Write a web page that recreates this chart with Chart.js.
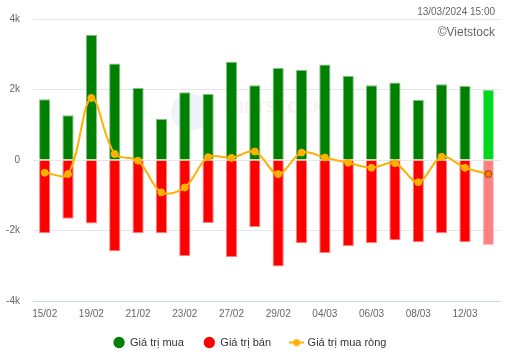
<!DOCTYPE html>
<html>
<head>
<meta charset="utf-8">
<script src="https://cdn.jsdelivr.net/npm/chart.js@4"></script>
<style>
  body { margin: 0; background: #fff; }
</style>
</head>
<body>
<canvas id="grafico" width="511" height="360"></canvas>
<script>
// Dữ liệu (đơn vị: tỷ đồng)
const ngay = ['15/02', '16/02', '19/02', '20/02', '21/02', '22/02', '23/02', '26/02', '27/02', '28/02',
              '29/02', '01/03', '04/03', '05/03', '06/03', '07/03', '08/03', '11/03', '12/03', '13/03'];
const giaTriMua = [1720, 1270, 3550, 2740, 2040, 1160, 1920, 1870, 2790, 2120,
                   2610, 2550, 2710, 2380, 2120, 2200, 1700, 2150, 2100, 1990];
const giaTriBan = [-2080, -1670, -1800, -2590, -2080, -2080, -2720, -1790, -2750, -1900,
                   -3020, -2360, -2640, -2450, -2360, -2280, -2330, -2080, -2330, -2410];
const giaTriMuaRong = [-360, -400, 1760, 170, -20, -920, -780, 80, 60, 240,
                       -400, 210, 70, -80, -220, -90, -630, 90, -220, -400];
const mocTrucY = [-4000, -2000, 0, 2000, 4000];
const thoiGian = '13/03/2024 15:00';

const FONT = 'Liberation Sans, Arial, sans-serif';
const cuoi = ngay.length - 1;

// Biểu tượng chú thích cho đường (vạch + chấm)
const iconDuong = document.createElement('canvas');
iconDuong.width = 15; iconDuong.height = 8;
(function () {
    const c = iconDuong.getContext('2d');
    c.strokeStyle = '#ffb000'; c.lineWidth = 2;
    c.beginPath(); c.moveTo(0, 4); c.lineTo(15, 4); c.stroke();
    c.fillStyle = '#ffb000';
    c.beginPath(); c.arc(7.5, 4, 3.5, 0, Math.PI * 2); c.fill();
})();

// Logo mờ ở giữa và chữ ở góc trên
const plNen = {
    id: 'nen',
    beforeDatasetsDraw(chart) {
        const ctx = chart.ctx;
        ctx.save();
        ctx.fillStyle = 'rgba(40, 90, 160, 0.07)';
        ctx.beginPath(); ctx.arc(190, 112, 19, 0, Math.PI * 2); ctx.fill();
        ctx.font = 'bold 17px ' + FONT;
        ctx.fillStyle = 'rgba(220, 60, 60, 0.08)';
        ctx.textBaseline = 'middle';
        ctx.fillText('VIETSTOCK', 228, 108);
        ctx.restore();
    },
    afterDraw(chart) {
        const ctx = chart.ctx;
        ctx.save();
        ctx.textAlign = 'right';
        ctx.textBaseline = 'middle';
        ctx.fillStyle = '#666';
        ctx.font = '10px ' + FONT;
        ctx.fillText(thoiGian, 495, 12);
        ctx.font = '12px ' + FONT;
        ctx.fillText('\u00A9Vietstock', 495, 33);
        ctx.restore();
    }
};

new Chart(document.getElementById('grafico'), {
    data: {
        labels: ngay,
        datasets: [
            {
                type: 'line',
                label: 'Giá trị mua ròng',
                data: giaTriMuaRong,
                borderColor: '#ffb000',
                borderWidth: 2,
                tension: 0.35,
                pointRadius: 3.5,
                pointBorderWidth: 1,
                pointBackgroundColor: ngay.map((_, i) => i === cuoi ? '#ff7a00' : '#ffb000'),
                pointBorderColor: ngay.map((_, i) => i === cuoi ? '#8b4a1a' : '#ffb000'),
                order: 0
            },
            {
                type: 'bar',
                label: 'Giá trị mua',
                data: giaTriMua,
                backgroundColor: ngay.map((_, i) => i === cuoi ? '#00d81e' : '#008000'),
                borderColor: ngay.map((_, i) => i === cuoi ? '#80ec8f' : '#80c080'),
                borderWidth: 1,
                barPercentage: 0.48,
                categoryPercentage: 1,
                order: 1
            },
            {
                type: 'bar',
                label: 'Giá trị bán',
                data: giaTriBan,
                backgroundColor: ngay.map((_, i) => i === cuoi ? '#ff8080' : '#ff0000'),
                borderColor: ngay.map((_, i) => i === cuoi ? '#ffc0c0' : '#ff8080'),
                borderWidth: 1,
                barPercentage: 0.48,
                categoryPercentage: 1,
                order: 2
            }
        ]
    },
    options: {
        responsive: false,
        animation: false,
        layout: { padding: { top: 19, right: 11, left: 0, bottom: 2 } },
        scales: {
            x: {
                stacked: true,
                grid: { display: false, drawTicks: false },
                border: { display: true, color: '#ccd6eb', width: 1 },
                ticks: {
                    autoSkip: false,
                    maxRotation: 0,
                    padding: 7,
                    color: '#666',
                    font: { family: FONT, size: 10 },
                    callback: (v, i) => i % 2 === 0 ? ngay[i] : ''
                },
                afterFit(scale) { scale.height = 16; }
            },
            y: {
                min: -4000,
                max: 4000,
                afterBuildTicks(scale) { scale.ticks = mocTrucY.map(v => ({ value: v })); },
                grid: { color: '#e6e6e6', drawTicks: false },
                border: { display: false },
                ticks: {
                    padding: 13,
                    color: '#666',
                    font: { family: FONT, size: 10 },
                    callback: v => v === 0 ? '0' : (v / 1000) + 'k'
                },
                afterFit(scale) { scale.width = 33; }
            }
        },
        plugins: {
            tooltip: { enabled: false },
            legend: {
                position: 'bottom',
                labels: {
                    usePointStyle: true,
                    boxWidth: 11,
                    boxHeight: 8,
                    padding: 20,
                    color: '#333',
                    font: { family: FONT, size: 11 },
                    sort: (a, b) => [1, 2, 0].indexOf(a.datasetIndex) - [1, 2, 0].indexOf(b.datasetIndex),
                    generateLabels(chart) {
                        const items = Chart.defaults.plugins.legend.labels.generateLabels(chart);
                        items.forEach(it => {
                            it.lineWidth = 0;
                            it.strokeStyle = it.fillStyle;
                            if (it.datasetIndex === 0) it.pointStyle = iconDuong;
                            else it.pointStyle = 'circle';
                        });
                        return items;
                    }
                }
            }
        }
    },
    plugins: [plNen]
});
</script>
</body>
</html>
